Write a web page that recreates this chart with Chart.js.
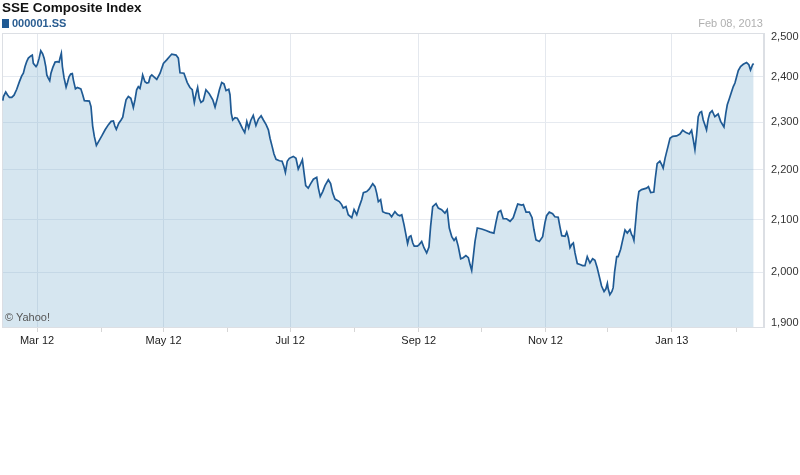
<!DOCTYPE html>
<html>
<head>
<meta charset="utf-8">
<script src="https://cdn.jsdelivr.net/npm/chart.js@4.4.1/dist/chart.umd.min.js"></script>
<style>
  html, body { margin: 0; padding: 0; background: #ffffff; }
  body { width: 800px; height: 475px; position: relative; overflow: hidden; font-family: "Liberation Sans", Arial, sans-serif; }
  #wrap { position: absolute; left: 0; top: 0; width: 800px; height: 350px; }
  .title { position: absolute; left: 2px; top: 0px; font-size: 13.5px; font-weight: bold; color: #111; }
  .legend { position: absolute; left: 2px; top: 17px; font-size: 11px; font-weight: bold; color: #2a5d91; }
  .legend span.sw { display: inline-block; width: 7px; height: 9px; background: #1f5a94; margin-right: 3px; vertical-align: -1px; }
  .date { position: absolute; right: 37px; top: 17px; font-size: 11px; color: #b0b0b0; }
  .credit { position: absolute; left: 5px; top: 311px; font-size: 11px; color: #555; }
</style>
</head>
<body>
<div id="wrap"><canvas id="c" width="800" height="350"></canvas></div>
<div class="title">SSE Composite Index</div>
<div class="legend"><span class="sw"></span>000001.SS</div>
<div class="date">Feb 08, 2013</div>
<div class="credit">© Yahoo!</div>
<script>
// Days since 2012-03-01 (fractional positions)
const dayOffsets = [
  -16.5,-16.2,-15.1,-14.3,-13.3,-12.2,-11.1,-9.8,-8.5,-7.4,-6.6,-5.8,-5.0,-4.2,-3.0,-2.3,-1.8,-0.5,0.1,1.0,
  1.8,2.7,3.4,4.2,4.7,5.4,6.1,6.7,7.6,8.7,9.8,10.6,11.1,11.7,12.2,13.0,14.0,14.6,15.4,16.2,
  17.0,17.5,18.5,19.4,21.1,22.0,22.8,25.2,26.0,26.8,27.6,28.6,29.5,31.2,32.8,34.4,35.7,36.8,37.5,38.2,
  39.4,40.5,41.3,42.1,42.9,44.0,45.2,45.9,46.4,47.2,48.0,48.8,49.6,50.5,50.9,52.0,52.9,53.8,54.5,55.3,
  57.7,59.3,60.9,62.5,64.1,64.9,67.0,68.1,68.9,70.8,72.4,73.7,74.8,75.8,76.6,77.4,78.2,79.0,80.1,81.4,
  83.0,84.7,85.8,86.9,87.9,89.0,90.1,91.1,92.4,93.0,93.6,94.3,95.4,96.5,97.8,99.1,100.1,101.1,102.0,103.0,
  104.2,105.5,106.7,108.0,109.1,110.4,111.5,112.3,113.3,114.2,115.2,116.8,118.1,119.0,119.7,120.6,121.6,123.5,124.8,125.9,
  127.1,127.9,128.7,129.5,130.7,131.9,133.2,134.8,135.6,136.5,137.7,138.8,140.4,141.5,142.5,143.6,145.7,146.8,147.6,148.9,
  150.0,151.7,152.8,154.1,155.3,156.5,157.3,158.9,160.1,161.8,162.9,163.7,164.5,165.6,166.6,168.2,169.8,170.9,172.5,173.8,
  174.9,175.8,176.9,177.8,178.6,179.4,180.2,181.1,181.8,183.3,184.2,185.4,186.5,187.8,188.9,189.7,190.7,192.3,193.4,195.0,
  196.6,197.7,198.7,199.9,201.0,201.9,203.0,204.2,205.4,206.7,207.9,208.7,209.5,210.3,211.1,212.2,214.3,216.4,218.3,220.2,
  221.2,222.3,223.5,224.7,226.3,228.0,229.5,230.8,231.7,233.6,234.4,235.7,237.3,238.6,239.5,240.5,242.1,243.7,244.8,245.6,
  246.9,248.5,249.6,251.2,252.0,252.9,254.5,255.3,256.1,256.9,257.7,258.5,259.3,260.4,261.7,263.0,264.1,265.2,266.5,267.8,
  268.9,270.0,271.0,272.1,273.3,274.2,274.9,275.3,276.1,277.1,277.7,278.4,279.4,280.1,281.3,282.3,283.4,284.5,285.8,286.6,
  287.1,287.7,288.7,289.3,290.1,291.4,293.8,294.7,295.8,297.3,298.0,298.9,300.2,301.1,301.8,302.7,303.5,304.2,305.1,306.4,
  308.3,309.9,311.2,312.8,314.4,315.5,316.3,317.1,317.9,318.7,319.5,320.3,321.1,321.9,322.7,323.5,324.3,325.4,326.7,328.3,
  329.5,331.1,332.0,332.7,333.6,334.8,335.6,336.4,337.2,338.0,339.1,340.4,342.0,343.1,343.9,344.9,345.4
];
const closeValues = [
  2347,2356,2366,2360,2354,2354,2359,2372,2389,2402,2408,2423,2434,2442,2447,2449,2430,2423,2427,2442,
  2459,2452,2442,2423,2404,2397,2391,2408,2421,2433,2434,2433,2443,2453,2423,2398,2377,2386,2400,2406,
  2407,2393,2373,2376,2373,2360,2347,2346,2334,2292,2270,2251,2258,2271,2284,2295,2302,2303,2292,2285,
  2298,2305,2311,2331,2349,2356,2352,2341,2332,2349,2371,2378,2374,2393,2404,2389,2386,2387,2400,2404,
  2394,2408,2430,2438,2447,2451,2449,2442,2409,2408,2387,2376,2371,2343,2362,2376,2352,2343,2347,2371,
  2362,2349,2333,2352,2371,2387,2384,2369,2372,2360,2320,2305,2310,2309,2298,2286,2278,2302,2288,2304,
  2315,2293,2307,2314,2305,2295,2284,2266,2249,2233,2222,2219,2218,2207,2195,2218,2224,2228,2224,2202,
  2213,2221,2194,2168,2163,2172,2181,2185,2163,2146,2156,2168,2180,2172,2153,2141,2136,2130,2123,2126,
  2110,2104,2120,2110,2126,2140,2154,2156,2161,2172,2166,2153,2136,2140,2116,2113,2112,2106,2116,2110,
  2108,2110,2090,2071,2054,2067,2069,2055,2049,2049,2052,2058,2046,2036,2047,2087,2126,2132,2123,2120,
  2113,2120,2084,2067,2060,2065,2049,2025,2027,2031,2027,2014,2003,2030,2058,2084,2082,2079,2076,2074,
  2095,2115,2118,2102,2102,2097,2104,2120,2131,2129,2130,2115,2115,2104,2081,2061,2058,2067,2094,2108,
  2115,2112,2106,2105,2087,2069,2068,2076,2065,2046,2052,2055,2036,2016,2014,2012,2012,2029,2017,2025,
  2022,2008,1992,1974,1964,1969,1979,1969,1958,1964,1971,2001,2029,2029,2043,2061,2080,2074,2081,2071,
  2068,2060,2104,2133,2156,2160,2163,2166,2154,2155,2183,2213,2218,2211,2204,2224,2238,2250,2266,2270,
  2271,2275,2283,2278,2275,2283,2263,2242,2273,2312,2321,2323,2305,2295,2284,2307,2320,2325,2312,2318,
  2302,2290,2320,2338,2350,2367,2378,2386,2400,2414,2423,2428,2432,2427,2415,2427,2430
];
// Month starts (days since 2012-03-01) and their labels
const monthTickDays = [0, 31, 61, 92, 122, 153, 184, 214, 245, 275, 306, 337];
const monthTickLabels = ["Mar 12", "", "May 12", "", "Jul 12", "", "Sep 12", "", "Nov 12", "", "Jan 13", ""];
const yTickValues = [1900, 2000, 2100, 2200, 2300, 2400, 2500];
const xRangeDays = [-16.9, 350.4];

const points = dayOffsets.map((d, i) => ({ x: d, y: closeValues[i] }));

const framePlugin = {
  id: 'frame',
  beforeDatasetsDraw(chart) {
    const a = chart.chartArea, ctx = chart.ctx;
    ctx.save();
    ctx.strokeStyle = '#dcdfe4';
    ctx.lineWidth = 1;
    ctx.strokeRect(Math.round(a.left) + 0.5, Math.round(a.top) + 0.5, Math.round(a.right - a.left) - 1, Math.round(a.bottom - a.top));
    ctx.restore();
  }
};

// keep the first and last y labels inside the plot height, as in the original
const edgeLabelPlugin = {
  id: 'edgeLabels',
  beforeDraw(chart) {
    const s = chart.scales.y;
    if (!s || typeof s.getLabelItems !== 'function') return;
    const items = s.getLabelItems(chart.chartArea);
    if (!items || !items.length || items._shifted) return;
    const shift = (it, dy) => {
      if (it && it.options && Array.isArray(it.options.translation)) it.options.translation[1] += dy;
    };
    shift(items[0], -4);
    shift(items[items.length - 1], 4);
    items._shifted = true;
  }
};

new Chart(document.getElementById('c'), {
  type: 'line',
  data: {
    datasets: [{
      data: points,
      borderColor: '#1f5a94',
      borderWidth: 1.7,
      backgroundColor: 'rgba(127,177,208,0.32)',
      fill: 'start',
      pointRadius: 0,
      tension: 0
    }]
  },
  options: {
    responsive: false,
    animation: false,
    layout: { padding: { top: 33, left: 2, right: 0, bottom: 0 } },
    plugins: { legend: { display: false }, tooltip: { enabled: false }, title: { display: false } },
    scales: {
      x: {
        type: 'linear',
        min: xRangeDays[0],
        max: xRangeDays[1],
        afterBuildTicks(scale) { scale.ticks = monthTickDays.map(v => ({ value: v })); },
        afterFit(scale) { scale.height = 23; },
        ticks: {
          autoSkip: false,
          maxRotation: 0,
          padding: 2,
          color: '#222',
          font: { family: '"Liberation Sans", Arial, sans-serif', size: 11 },
          callback(v, i) { return monthTickLabels[i]; }
        },
        grid: {
          color(c) { return (c.index !== undefined && monthTickLabels[c.index]) ? '#e4e8ee' : 'rgba(0,0,0,0)'; },
          tickColor: '#d6d6d6',
          tickLength: 5,
          lineWidth: 1
        },
        border: { display: false }
      },
      y: {
        type: 'logarithmic',
        position: 'right',
        min: 1900,
        max: 2500,
        afterBuildTicks(scale) { scale.ticks = yTickValues.map(v => ({ value: v })); },
        afterFit(scale) { scale.width = 36; },
        ticks: {
          padding: 7,
          color: '#333',
          font: { family: '"Liberation Sans", Arial, sans-serif', size: 11 },
          callback(v) { return Number(v).toLocaleString('en-US'); }
        },
        grid: { color: '#e6eaf0', drawTicks: false, lineWidth: 1 },
        border: { display: true, color: '#dcdfe4' }
      }
    }
  },
  plugins: [framePlugin, edgeLabelPlugin]
});
</script>
</body>
</html>
